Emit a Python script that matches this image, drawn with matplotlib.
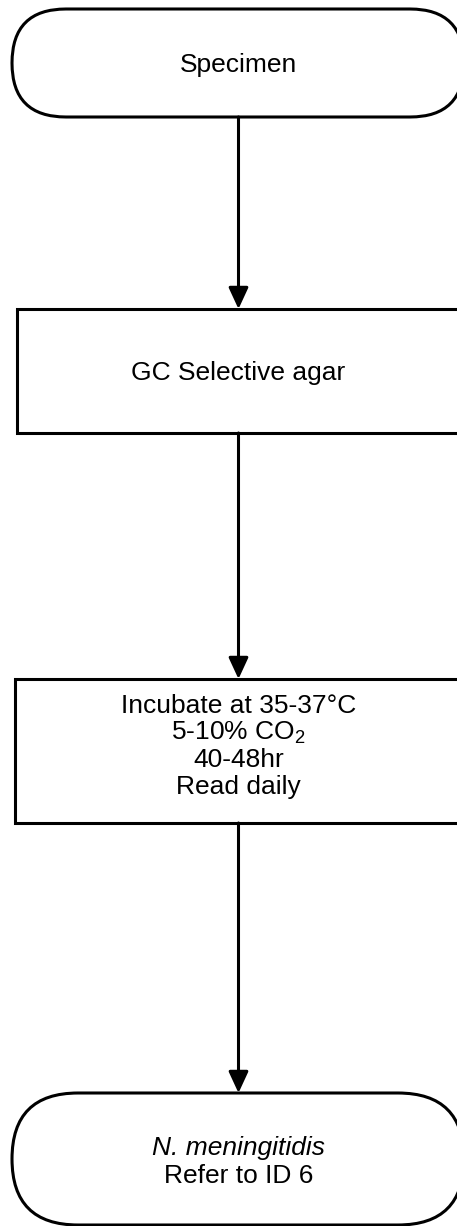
import matplotlib

matplotlib.use("Agg")
import matplotlib.pyplot as plt
from matplotlib.patches import FancyBboxPatch, Rectangle

plt.rcParams["font.family"] = ["Liberation Sans", "DejaVu Sans"]
plt.rcParams["mathtext.default"] = "regular"

# flowchart content, top to bottom
node_kinds = ["terminal", "process", "process", "terminal"]
node_lines = [
    ["Specimen"],
    ["GC Selective agar"],
    ["Incubate at 35-37°C", "5-10% CO$_2$", "40-48hr", "Read daily"],
    ["N. meningitidis", "Refer to ID 6"],
]
node_italic = [
    [False],
    [False],
    [False, False, False, False],
    [True, False],
]

# layout in pixels (x0, y_top, x1, y_bottom), first text baseline, line step
node_boxes = [
    (12, 9, 464, 117),
    (17, 309, 461, 433),
    (15, 679, 461, 823),
    (12, 1093, 464, 1225),
]
text_baselines = [72, 380, 713, 1155]
line_steps = [0, 0, 27, 28]
center_x = 238.5

W, H = 457, 1226
fig = plt.figure(figsize=(W / 100, H / 100), dpi=100)
ax = fig.add_axes([0, 0, 1, 1])
ax.set_xlim(0, W)
ax.set_ylim(H, 0)
ax.set_aspect("equal")
ax.axis("off")

lw = 2.2
for kind, (x0, y0, x1, y1) in zip(node_kinds, node_boxes):
    if kind == "terminal":
        r = (y1 - y0) / 2
        patch = FancyBboxPatch(
            (x0, y0),
            x1 - x0,
            y1 - y0,
            boxstyle=f"round,pad=0,rounding_size={r}",
            facecolor="white",
            edgecolor="black",
            linewidth=lw,
        )
    else:
        patch = Rectangle(
            (x0, y0), x1 - x0, y1 - y0,
            facecolor="white", edgecolor="black", linewidth=lw,
        )
    ax.add_patch(patch)

for lines, italics, base, step in zip(node_lines, node_italic, text_baselines, line_steps):
    for i, (line, it) in enumerate(zip(lines, italics)):
        ax.text(
            center_x,
            base + i * step,
            line,
            ha="center",
            va="baseline",
            fontsize=19,
            style="italic" if it else "normal",
            color="black",
        )

# connectors between consecutive nodes
for upper, lower in zip(node_boxes[:-1], node_boxes[1:]):
    ax.annotate(
        "",
        xy=(center_x, lower[1]),
        xytext=(center_x, upper[3]),
        arrowprops=dict(
            arrowstyle="-|>,head_length=1.3,head_width=0.6",
            mutation_scale=10,
            lw=lw,
            color="black",
            shrinkA=0,
            shrinkB=0,
        ),
    )

fig.savefig("out.png", dpi=100)
plt.close(fig)
